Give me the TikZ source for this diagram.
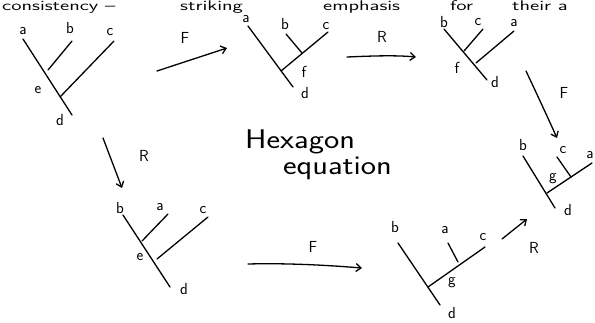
\documentclass[tikz,border=0pt]{standalone}
\usetikzlibrary{arrows.meta}
\newcommand{\handfont}{\sffamily\fontsize{16}{16}\selectfont}
\newcommand{\bigfont}{\sffamily\fontsize{27}{27}\selectfont}
\newcommand{\topfont}{\sffamily\fontsize{14}{14}\selectfont}
\tikzset{
  lbl/.style={font=\handfont, inner sep=0pt},
  br/.style={line width=1.3pt, line cap=round},
  arr/.style={br, -{Straight Barb[length=5pt,width=8pt,line width=1.3pt]}},
  toptext/.style={font=\topfont, inner sep=0pt, anchor=base west},
  bigtext/.style={font=\bigfont, inner sep=0pt, anchor=base west},
}
\begin{document}
\begin{tikzpicture}[x=1pt,y=-1pt]
\useasboundingbox (0,0) rectangle (595,322);
% line of text at the top
\node[toptext] (w1) at (2,10) {\scalebox{1.5}[1]{consistency --}};
\node[toptext] (w2) at (180,10) {\scalebox{1.5}[1]{striking}};
\node[toptext] (w3) at (323,10) {\scalebox{1.5}[1]{emphasis}};
\node[toptext] (w4) at (450,10) {\scalebox{1.5}[1]{for}};
\node[toptext] (w5) at (512,10) {\scalebox{1.5}[1]{their a}};

% ---------- tree 1 ----------
\node[lbl] (t1a) at (23,31) {a};
\node[lbl] (t1b) at (70,28) {b};
\node[lbl] (t1c) at (110,32) {c};
\node[lbl] (t1e) at (38,90) {e};
\node[lbl] (t1d) at (60,120) {d};
\coordinate (t1top) at (23,39); \coordinate (t1bot) at (72,115);
\coordinate (t1bt) at (72,41); \coordinate (t1be) at (48,70);
\coordinate (t1ct) at (114,41); \coordinate (t1ce) at (60,97);
\draw[br] (t1top) -- (t1bot);
\draw[br] (t1bt) -- (t1be);
\draw[br] (t1ct) -- (t1ce);

% arrow F (1 -> 2)
\coordinate (f1s) at (157,71); \coordinate (f1e) at (227,48);
\draw[arr] (f1s) -- (f1e);
\node[lbl] (f1l) at (185,38) {F};

% ---------- tree 2 ----------
\node[lbl] (t2a) at (246,19) {a};
\node[lbl] (t2b) at (285,24) {b};
\node[lbl] (t2c) at (326,26) {c};
\node[lbl] (t2f) at (304,72) {f};
\node[lbl] (t2d) at (305,93) {d};
\coordinate (t2top) at (248,26); \coordinate (t2bot) at (293,87);
\coordinate (t2ct) at (328,32); \coordinate (t2ce) at (281,71);
\coordinate (t2bt) at (286,34); \coordinate (t2be) at (302,53);
\draw[br] (t2top) -- (t2bot);
\draw[br] (t2ct) -- (t2ce);
\draw[br] (t2bt) -- (t2be);

% arrow R (2 -> 3)
\coordinate (r1s) at (347,57); \coordinate (r1e) at (416,57);
\draw[arr] (r1s) .. controls (370,56) and (395,55) .. (r1e);
\node[lbl] (r1l) at (382,37) {R};

% ---------- tree 3 ----------
\node[lbl] (t3b) at (444,22) {b};
\node[lbl] (t3c) at (478,22) {c};
\node[lbl] (t3a) at (514,23) {a};
\node[lbl] (t3f) at (457,68) {f};
\node[lbl] (t3d) at (495,82) {d};
\coordinate (t3top) at (444,29); \coordinate (t3bot) at (487,80);
\coordinate (t3ct) at (483,29); \coordinate (t3ce) at (464,51);
\coordinate (t3at) at (514,31); \coordinate (t3ae) at (476,63);
\draw[br] (t3top) -- (t3bot);
\draw[br] (t3ct) -- (t3ce);
\draw[br] (t3at) -- (t3ae);

% arrow F (3 -> 4)
\coordinate (f2s) at (526,71); \coordinate (f2e) at (557,138);
\draw[arr] (f2s) .. controls (535,90) and (548,118) .. (f2e);
\node[lbl] (f2l) at (564,93) {F};

% ---------- tree 4 ----------
\node[lbl] (t4b) at (523,145) {b};
\node[lbl] (t4c) at (563,150) {c};
\node[lbl] (t4a) at (590,155) {a};
\node[lbl] (t4g) at (553,179) {g};
\node[lbl] (t4d) at (568,210) {d};
\coordinate (t4top) at (523,156); \coordinate (t4bot) at (555,208);
\coordinate (t4at) at (592,163); \coordinate (t4ae) at (547,193);
\coordinate (t4ct) at (557,157); \coordinate (t4ce) at (571,177);
\draw[br] (t4top) -- (t4bot);
\draw[br] (t4at) -- (t4ae);
\draw[br] (t4ct) -- (t4ce);

% arrow R (5 -> 4)
\coordinate (r2s) at (502,239); \coordinate (r2e) at (527,219);
\draw[arr] (r2s) -- (r2e);
\node[lbl] (r2l) at (534,248) {R};

% ---------- tree 5 ----------
\node[lbl] (t5b) at (395,227) {b};
\node[lbl] (t5a) at (445,230) {a};
\node[lbl] (t5c) at (483,237) {c};
\node[lbl] (t5g) at (452,283) {g};
\node[lbl] (t5d) at (452,313) {d};
\coordinate (t5top) at (398,243); \coordinate (t5bot) at (440,305);
\coordinate (t5ct) at (485,247); \coordinate (t5ce) at (428,287);
\coordinate (t5at) at (448,243); \coordinate (t5ae) at (458,262);
\draw[br] (t5top) -- (t5bot);
\draw[br] (t5ct) -- (t5ce);
\draw[br] (t5at) -- (t5ae);

% arrow F (6 -> 5)
\coordinate (f3s) at (248,264); \coordinate (f3e) at (362,268);
\draw[arr] (f3s) .. controls (285,263) and (325,265) .. (f3e);
\node[lbl] (f3l) at (313,247) {F};

% ---------- tree 6 ----------
\node[lbl] (t6b) at (120,208) {b};
\node[lbl] (t6a) at (160,207) {a};
\node[lbl] (t6c) at (203,210) {c};
\node[lbl] (t6e) at (140,257) {e};
\node[lbl] (t6d) at (184,289) {d};
\coordinate (t6top) at (123,215); \coordinate (t6bot) at (170,287);
\coordinate (t6at) at (168,214); \coordinate (t6ae) at (142,241);
\coordinate (t6ct) at (208,217); \coordinate (t6ce) at (157,259);
\draw[br] (t6top) -- (t6bot);
\draw[br] (t6at) -- (t6ae);
\draw[br] (t6ct) -- (t6ce);

% arrow R (1 -> 6)
\coordinate (r3s) at (103,138); \coordinate (r3e) at (122,188);
\draw[arr] (r3s) -- (r3e);
\node[lbl] (r3l) at (144,156) {R};

% centre text
\node[bigtext] (hex) at (245,148) {\scalebox{1.2}[1]{Hexagon}};
\node[bigtext] (eqn) at (283,174) {\scalebox{1.2}[1]{equation}};
\end{tikzpicture}
\end{document}
